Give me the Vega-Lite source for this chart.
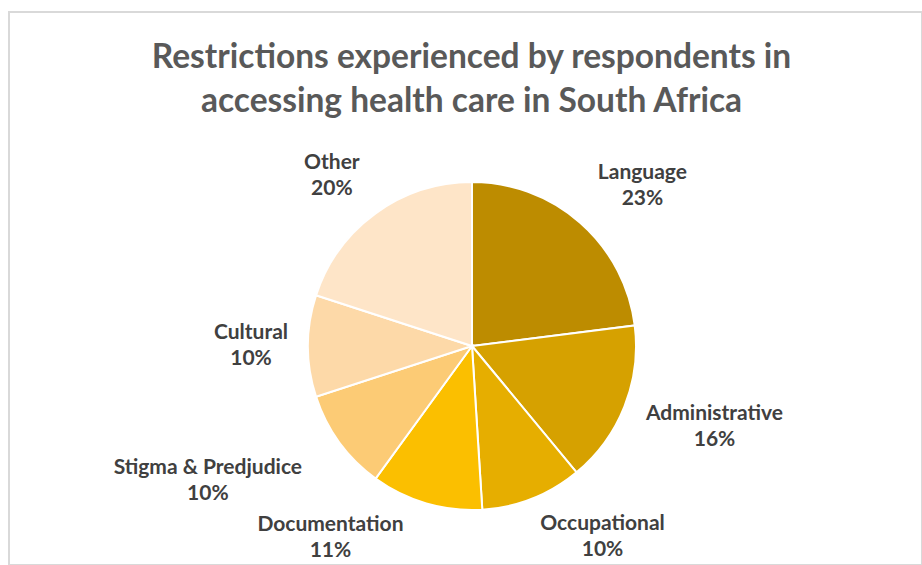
{
  "$schema": "https://vega.github.io/schema/vega-lite/v6.json",
  "width": 913,
  "height": 553,
  "autosize": {"type": "none"},
  "padding": {"left": 9, "top": 12, "right": 0, "bottom": 0},
  "background": "white",
  "config": {
    "view": {"stroke": "#d9d9d9", "strokeWidth": 2},
    "font": "Lato"
  },
  "title": {
    "text": ["Restrictions experienced by respondents in", "accessing health care in South Africa"],
    "font": "Lato",
    "fontSize": 33.5,
    "fontWeight": "bold",
    "color": "#595959",
    "lineHeight": 44,
    "anchor": "middle",
    "frame": "group",
    "baseline": "top",
    "offset": -107,
    "dx": 6
  },
  "data": {
    "values": [
      {"category": "Language", "value": 23},
      {"category": "Administrative", "value": 16},
      {"category": "Occupational", "value": 10},
      {"category": "Documentation", "value": 11},
      {"category": "Stigma & Predjudice", "value": 10},
      {"category": "Cultural", "value": 10},
      {"category": "Other", "value": 20}
    ]
  },
  "transform": [
    {"window": [{"op": "row_number", "as": "idx"}]},
    {"stack": "value", "groupby": [], "sort": [{"field": "idx", "order": "ascending"}], "as": ["v0", "v1"]},
    {"calculate": "(datum.v0 + datum.v1) / 2", "as": "mid"},
    {"calculate": "[datum.category, datum.value + '%']", "as": "lbl"}
  ],
  "encoding": {
    "x": {"value": {"expr": "width/2 + 6.5"}},
    "y": {"value": {"expr": "height/2 + 57.5"}}
  },
  "layer": [
    {
      "mark": {"type": "arc", "outerRadius": 164, "stroke": "white", "strokeWidth": 2},
      "encoding": {
        "theta": {"field": "v0", "type": "quantitative", "scale": {"domain": [0, 100]}},
        "theta2": {"field": "v1"},
        "color": {
          "field": "category",
          "type": "nominal",
          "legend": null,
          "scale": {
            "domain": ["Language", "Administrative", "Occupational", "Documentation", "Stigma & Predjudice", "Cultural", "Other"],
            "range": ["#bd8c00", "#d6a100", "#e6ae00", "#fbbf00", "#fccb75", "#fdd9a8", "#fee5c8"]
          }
        }
      }
    },
    {
      "transform": [{"filter": "datum.category == 'Language'"}],
      "mark": {"type": "text", "radius": 235, "dx": 15, "dy": 3, "fontSize": 21, "fontWeight": "bold", "lineHeight": 26, "color": "#404040", "align": "center", "baseline": "middle"},
      "encoding": {"theta": {"field": "mid", "type": "quantitative", "stack": null, "scale": {"domain": [0, 100]}}, "text": {"field": "lbl"}}
    },
    {
      "transform": [{"filter": "datum.category == 'Administrative'"}],
      "mark": {"type": "text", "radius": 235, "dx": 24, "dy": -19, "fontSize": 21, "fontWeight": "bold", "lineHeight": 26, "color": "#404040", "align": "center", "baseline": "middle"},
      "encoding": {"theta": {"field": "mid", "type": "quantitative", "stack": null, "scale": {"domain": [0, 100]}}, "text": {"field": "lbl"}}
    },
    {
      "transform": [{"filter": "datum.category == 'Occupational'"}],
      "mark": {"type": "text", "radius": 235, "dx": 44, "dy": -40, "fontSize": 21, "fontWeight": "bold", "lineHeight": 26, "color": "#404040", "align": "center", "baseline": "middle"},
      "encoding": {"theta": {"field": "mid", "type": "quantitative", "stack": null, "scale": {"domain": [0, 100]}}, "text": {"field": "lbl"}}
    },
    {
      "transform": [{"filter": "datum.category == 'Documentation'"}],
      "mark": {"type": "text", "radius": 235, "dx": -76, "dy": -47, "fontSize": 21, "fontWeight": "bold", "lineHeight": 26, "color": "#404040", "align": "center", "baseline": "middle"},
      "encoding": {"theta": {"field": "mid", "type": "quantitative", "stack": null, "scale": {"domain": [0, 100]}}, "text": {"field": "lbl"}}
    },
    {
      "transform": [{"filter": "datum.category == 'Stigma & Predjudice'"}],
      "mark": {"type": "text", "radius": 235, "dx": -74, "dy": -16, "fontSize": 21, "fontWeight": "bold", "lineHeight": 26, "color": "#404040", "align": "center", "baseline": "middle"},
      "encoding": {"theta": {"field": "mid", "type": "quantitative", "stack": null, "scale": {"domain": [0, 100]}}, "text": {"field": "lbl"}}
    },
    {
      "transform": [{"filter": "datum.category == 'Cultural'"}],
      "mark": {"type": "text", "radius": 235, "dx": 14, "dy": -13, "fontSize": 21, "fontWeight": "bold", "lineHeight": 26, "color": "#404040", "align": "center", "baseline": "middle"},
      "encoding": {"theta": {"field": "mid", "type": "quantitative", "stack": null, "scale": {"domain": [0, 100]}}, "text": {"field": "lbl"}}
    },
    {
      "transform": [{"filter": "datum.category == 'Other'"}],
      "mark": {"type": "text", "radius": 235, "dx": -2, "dy": 7, "fontSize": 21, "fontWeight": "bold", "lineHeight": 26, "color": "#404040", "align": "center", "baseline": "middle"},
      "encoding": {"theta": {"field": "mid", "type": "quantitative", "stack": null, "scale": {"domain": [0, 100]}}, "text": {"field": "lbl"}}
    }
  ]
}
